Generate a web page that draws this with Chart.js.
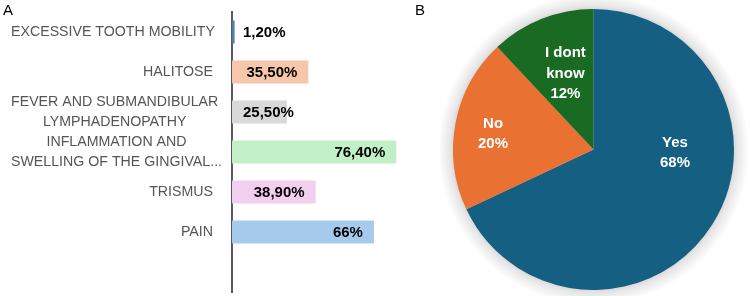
<!DOCTYPE html>
<html lang="en">
<head>
<meta charset="UTF-8">
<title>Symptoms and answers</title>
<style>
    body { margin: 0; background: #ffffff; font-family: 'Liberation Sans', Arial, sans-serif; }
    #wrap { position: relative; width: 750px; height: 296px; overflow: hidden; }
    #barChart { position: absolute; left: 0; top: 0; }
    #pieChart { position: absolute; left: 440px; top: 0; }
    .panel { position: absolute; font-size: 15px; color: #000; }
</style>
</head>
<body>
<div id="wrap">
    <canvas id="barChart" width="447" height="296"></canvas>
    <canvas id="pieChart" width="310" height="296"></canvas>
    <div class="panel" style="left:3px; top:1px;">A</div>
    <div class="panel" style="left:415px; top:1px;">B</div>
</div>

<script src="https://cdn.jsdelivr.net/npm/chart.js"></script>
<script>
// Panel A data
const symptoms = [
    'EXCESSIVE TOOTH MOBILITY',
    'HALITOSE',
    ['FEVER AND SUBMANDIBULAR', 'LYMPHADENOPATHY'],
    ['INFLAMMATION AND', 'SWELLING OF THE GINGIVAL...'],
    'TRISMUS',
    'PAIN'
];
const symptomValues = [1.2, 35.5, 25.5, 76.4, 38.9, 66];
const symptomText = ['1,20%', '35,50%', '25,50%', '76,40%', '38,90%', '66%'];
const barColors = ['#4f7fa6', '#f7c7ac', '#d9d9d9', '#c1f0c8', '#f2ceef', '#a6caec'];

// Panel B data
const answers = ['Yes', 'No', 'I dont know'];
const answerValues = [68, 20, 12];
const answerText = [['Yes', '68%'], ['No', '20%'], ['I dont', 'know', '12%']];
const pieColors = ['#156082', '#e97132', '#196b24'];
// where each slice label sits, as fraction of the radius from the pie centre
const pieLabelPos = [[0.58, 0.025], [-0.715, -0.11], [-0.2, -0.54]];

// category labels, block right-aligned, lines centred inside the block
const categoryLabels = {
    id: 'categoryLabels',
    afterDraw(chart) {
        const ctx = chart.ctx;
        const yScale = chart.scales.y;
        ctx.save();
        ctx.font = '14.2px "Liberation Sans", Arial, sans-serif';
        ctx.fillStyle = '#555555';
        ctx.textAlign = 'center';
        ctx.textBaseline = 'middle';
        symptoms.forEach((lab, i) => {
            const lines = Array.isArray(lab) ? lab : [lab];
            const w = Math.max(...lines.map(l => ctx.measureText(l).width));
            const cx = Math.max(213 - w / 2, 11 + w / 2);
            const cy = yScale.getPixelForValue(i);
            lines.forEach((l, k) => {
                ctx.fillText(l, cx, cy + (k - (lines.length - 1) / 2) * 20);
            });
        });
        ctx.restore();
    }
};

// value labels at the inside end of each bar
const barValueLabels = {
    id: 'barValueLabels',
    afterDatasetsDraw(chart) {
        const ctx = chart.ctx;
        const left = chart.chartArea.left;
        ctx.save();
        ctx.font = 'bold 15px "Liberation Sans", Arial, sans-serif';
        ctx.fillStyle = '#000000';
        ctx.textAlign = 'right';
        ctx.textBaseline = 'middle';
        chart.getDatasetMeta(0).data.forEach((bar, i) => {
            if (i >= symptomText.length) return;
            const w = ctx.measureText(symptomText[i]).width;
            const x = Math.max(bar.x - 11, left + 11 + w);
            ctx.fillText(symptomText[i], x, bar.y + 1);
        });
        ctx.restore();
    }
};

new Chart(document.getElementById('barChart'), {
    type: 'bar',
    data: {
        labels: [...symptoms, ''],
        datasets: [{
            data: symptomValues,
            backgroundColor: barColors,
            borderWidth: 0,
            barPercentage: 0.575,
            categoryPercentage: 1
        }]
    },
    options: {
        indexAxis: 'y',
        responsive: false,
        animation: false,
        layout: { padding: { top: 12, bottom: 4, left: 0, right: 0 } },
        plugins: { legend: { display: false }, tooltip: { enabled: false } },
        scales: {
            x: { display: false, min: 0, max: 100 },
            y: {
                grid: { display: false, drawTicks: false },
                border: { display: true, color: '#595959', width: 2 },
                ticks: { display: false },
                afterFit(scale) { scale.width = 232; }
            }
        }
    },
    plugins: [categoryLabels, barValueLabels]
});

// soft shadow under the pie, drawn as a radial fade
const pieShadow = {
    id: 'pieShadow',
    beforeDatasetsDraw(chart) {
        const arc = chart.getDatasetMeta(0).data[0];
        if (!arc) return;
        const ctx = chart.ctx;
        const r = arc.outerRadius;
        ctx.save();
        const g = ctx.createRadialGradient(arc.x, arc.y, r - 4, arc.x, arc.y, r + 15);
        g.addColorStop(0, 'rgba(0,0,0,0.22)');
        g.addColorStop(0.35, 'rgba(0,0,0,0.1)');
        g.addColorStop(1, 'rgba(0,0,0,0)');
        ctx.fillStyle = g;
        ctx.beginPath();
        ctx.arc(arc.x, arc.y, r + 15, 0, Math.PI * 2);
        ctx.fill();
        ctx.restore();
    }
};

const pieLabels = {
    id: 'pieLabels',
    afterDatasetsDraw(chart) {
        const ctx = chart.ctx;
        const meta = chart.getDatasetMeta(0);
        ctx.save();
        ctx.font = 'bold 15px "Liberation Sans", Arial, sans-serif';
        ctx.fillStyle = '#ffffff';
        ctx.textAlign = 'center';
        ctx.textBaseline = 'middle';
        meta.data.forEach((arc, i) => {
            const r = arc.outerRadius;
            const x = arc.x + pieLabelPos[i][0] * r;
            const y = arc.y + pieLabelPos[i][1] * r;
            const lines = answerText[i];
            lines.forEach((l, k) => {
                ctx.fillText(l, x, y + (k - (lines.length - 1) / 2) * 20.5);
            });
        });
        ctx.restore();
    }
};

new Chart(document.getElementById('pieChart'), {
    type: 'pie',
    data: {
        labels: answers,
        datasets: [{
            data: answerValues,
            backgroundColor: pieColors,
            borderWidth: 0
        }]
    },
    options: {
        responsive: false,
        animation: false,
        layout: { padding: { top: 9, bottom: 6, left: 13, right: 16 } },
        plugins: { legend: { display: false }, tooltip: { enabled: false } }
    },
    plugins: [pieShadow, pieLabels]
});
</script>
</body>
</html>
